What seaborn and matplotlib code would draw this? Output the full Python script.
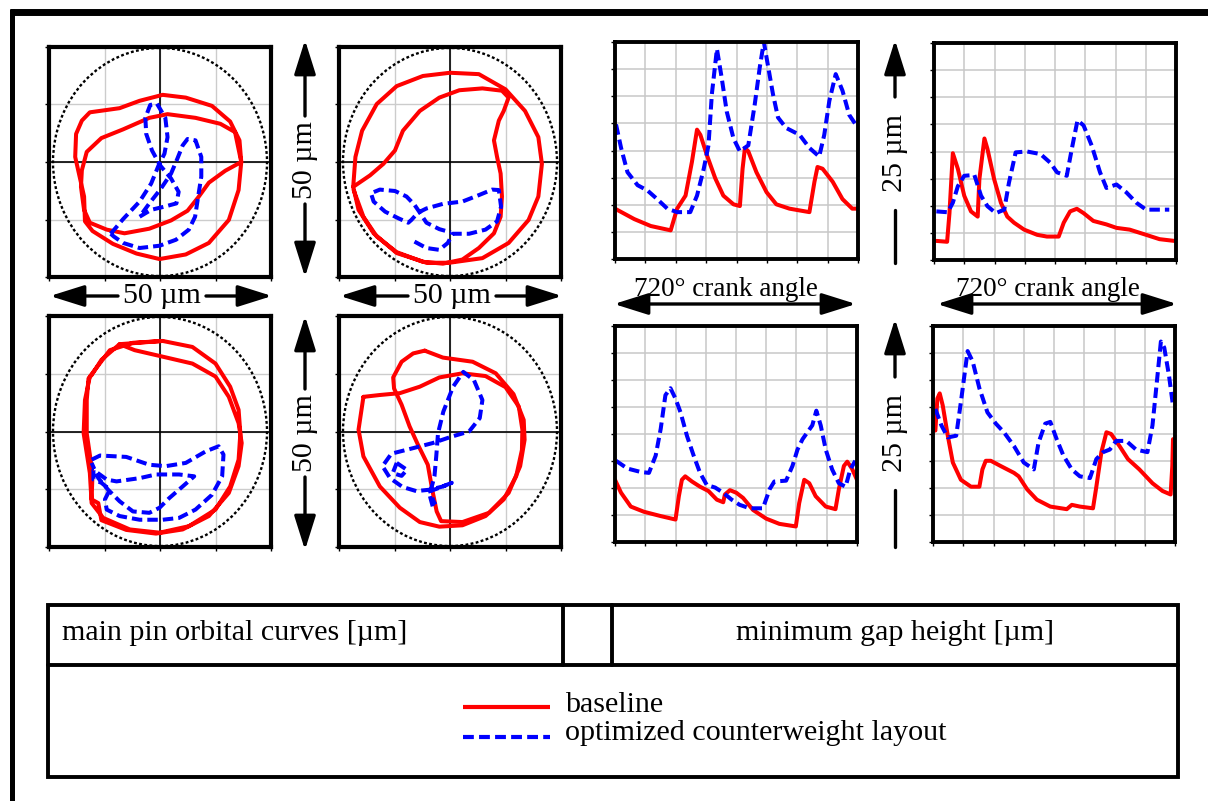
import numpy as np
import seaborn as sns
import matplotlib.pyplot as plt
from matplotlib.patches import Ellipse, Rectangle

sns.set_theme(style="white")
plt.rcParams['font.family'] = ['Liberation Serif', 'DejaVu Serif']
plt.rcParams['text.color'] = 'black'

W, H = 1208, 801
RED = '#ff0000'
BLUE = '#0000ff'
DASH = (2.6, 1.25)

# ---- main pin orbital curves [um] ----
orb1_red_x = [18.3, 17.7, 15.5, 11.0, 5.8, -0.1, -5.3, -10.6, -15.2, -16.9, -17.1, -18.1, -19.1, -18.9, -17.6, -15.8,
              -9.1, -4.6, 0.6, 5.8, 11.7, 15.8, 17.9, 18.3, 14.7, 11.0, 8.6, 6.2, 2.5, -2.4, -8.0, -12.0, -15.8,
              -17.1, -17.8, -17.6, -16.5, -13.2, -8.3, -2.4, 1.7, 8.0, 13.6, 16.9, 18.3]
orb1_red_y = [0, -6.1, -12.6, -17.6, -20.1, -21.1, -19.9, -17.8, -15.0, -12.9, -7.5, -3.2, 1.1, 6.1, 9.0, 10.8,
              11.7, 13.3, 14.6, 14.0, 12.2, 8.8, 4.7, 0, -1.9, -4.5, -7.7, -10.6, -12.7, -14.5, -15.5, -14.7, -13.2,
              -10.4, -5.4, -1.8, 2.2, 5.2, 7.1, 9.6, 10.4, 9.6, 8.3, 6.5, 0]
orb1_blue_x = [-11.1, -8.3, -4.6, -2.0, -0.3, 1.0, 1.7, 1.2, -0.7, -2.2, -3.3, -3.1, -1.8, 0, 2.5, 4.2, 3.7, 1.0,
               -2.0, -4.6, -2.4, 0.2, 2.5, 3.9, 5.1, 6.2, 8.0, 9.3, 9.3, 8.6, 7.9, 6.5, 3.6, -0.1, -4.6, -8.3,
               -10.4, -11.1]
orb1_blue_y = [-15.6, -12.4, -8.6, -4.7, -0.7, 1.8, 5.4, 9.6, 12.7, 12.4, 9.6, 6.1, 2.5, -0.7, -3.6, -6.5, -9.0,
               -9.7, -10.4, -11.9, -9.0, -5.8, -2.5, 0.7, 3.6, 5.0, 4.7, 1.1, -3.2, -7.5, -11.9, -14.7, -16.9,
               -18.2, -18.7, -17.6, -16.2, -15.6]

orb2_red_x = [-21.8, -21.3, -19.8, -16.5, -12.0, -6.1, 0, 6.5, 12.5, 16.9, 19.9, 20.7, 19.9, 17.7, 13.2, 7.3, -0.1,
              -5.3, -12.0, -17.2, -20.6, -21.8, -18.0, -15.0, -12.4, -10.6, -6.8, -2.4, 2.1, 7.3, 11.7, 13.2, 12.1,
              11.0, 9.9, 10.6, 11.4, 11.7, 11.4, 9.9, 6.5, 2.8, -1.6, -6.1, -12.0, -16.5, -19.5, -21.7]
orb2_red_y = [-5.4, 1.1, 6.8, 12.6, 16.5, 18.7, 19.4, 19.1, 15.8, 11.1, 5.4, -0.4, -7.5, -12.6, -17.6, -20.9, -21.9,
              -21.9, -19.8, -15.5, -10.4, -5.4, -2.9, -0.4, 2.5, 6.8, 11.1, 14.0, 15.6, 16.0, 15.5, 14.0, 11.1, 9.0,
              4.7, 1.1, -2.5, -7.5, -11.9, -15.5, -18.7, -21.2, -22.1, -21.7, -19.6, -16.2, -11.9, -6.1]
orb2_blue_x = [-8.0, -5.3, -2.4, -0.5, 0.6, 4.3, 8.0, 10.6, 11.5, 11.0, 9.5, 6.5, 2.8, -1.6, -5.3, -7.2, -8.7, -9.4,
               -11.7, -14.6, -17.2, -17.8, -15.8, -12.4, -9.8, -8.0, -6.8, -5.3, -2.4, 0.2]
orb2_blue_y = [-17.3, -18.7, -19.1, -17.6, -15.6, -15.6, -14.7, -12.9, -9.7, -6.1, -6.0, -7.2, -8.6, -9.1, -10.1,
               -11.0, -12.6, -13.2, -12.2, -10.8, -8.6, -6.8, -6.0, -6.3, -7.5, -9.3, -11.0, -13.2, -14.6, -15.3]

orb3_red_x = [0.6, 7.3, 12.5, 15.8, 17.7, 18.1, 17.7, 15.8, 12.5, 6.5, -0.1, -6.8, -12.8, -15.4, -15.8, -17.2, -16.9,
              -15.8, -11.3, -6.1, 0.6, -9.1, -5.7, 0.6, 7.3, 12.5, 15.5, 17.7, 18.4, 17.7, 15.5, 11.0, 5.1, -0.9,
              -7.6, -13.2, -13.9, -15.4, -15.2, -16.5, -16.5, -16.1, -15.4, -13.2, -9.1]
orb3_red_y = [19.6, 18.3, 14.7, 9.7, 4.7, -0.4, -6.1, -11.9, -16.9, -20.5, -21.9, -21.2, -18.7, -15.5, -9.0, -0.4,
              6.8, 11.9, 17.6, 19.2, 19.6, 18.9, 17.6, 16.2, 14.7, 11.9, 7.5, 1.8, -2.5, -7.5, -13.3, -18.3, -21.2,
              -22.1, -21.3, -19.2, -15.5, -14.7, -9.0, -0.4, 6.8, 11.5, 12.2, 15.5, 18.9]
orb3_blue_x = [-15.4, -13.5, -7.6, -2.4, 1.3, 5.8, 10.3, 13.2, 14.3, 14.0, 11.7, 8.0, 4.3, 0.6, -4.6, -9.1, -12.0,
               -12.4, -11.3, -13.2, -15.0, -15.0, -12.0, -9.8, -4.6, -0.9, 4.3, 7.7, 5.1, 2.1, -0.1, -2.4, -6.1,
               -9.1, -11.7, -13.9, -15.4]
orb3_blue_y = [-6.1, -5.2, -5.5, -7.2, -7.5, -6.8, -4.3, -3.2, -5.0, -9.7, -13.7, -16.9, -18.7, -19.1, -19.1, -18.3,
               -16.9, -14.7, -12.6, -11.1, -10.4, -8.3, -10.4, -10.8, -10.1, -9.3, -9.3, -9.7, -11.9, -14.4, -16.5,
               -17.6, -17.3, -15.1, -12.6, -10.1, -6.8]

orb4_red_x = [-19.5, -20.6, -19.5, -15.8, -11.3, -6.8, -2.4, 2.8, 8.0, 12.1, 14.9, 16.2, 16.3, 15.5, 12.5, 8.0, 2.8,
              -2.4, -6.8, -11.3, -15.8, -19.5]
orb4_red_y = [7.5, 0.4, -5.4, -11.9, -16.5, -19.6, -20.6, -20.3, -18.3, -14.7, -9.7, -4.0, 0.4, 5.4, 9.6, 12.0, 12.6,
              11.7, 9.7, 8.3, 7.9, 7.5]
orb4_red2_x = [-5.7, -1.6, 5.1, 10.3, 14.3, 16.6, 16.8, 15.8, 13.2, 8.8, 2.8, -2.0, -3.0, -4.0, -5.0, -7.2, -9.1,
               -10.9, -12.6, -12.8, -10.9, -8.3, -5.7]
orb4_red2_y = [17.5, 16.0, 15.1, 12.6, 8.1, 2.5, -1.8, -7.5, -13.3, -17.6, -19.6, -19.4, -17.3, -12.6, -7.2, -2.9,
               1.1, 5.8, 9.3, 11.7, 15.1, 16.9, 17.5]
orb4_blue_x = [-3.9, -4.6, -3.5, -3.1, -2.7, -1.5, 0.7, 3.0, 5.4, 7.3, 6.7, 4.3, 0.4, -3.9, -8.3, -13.2, -15.2, -13.5,
               -10.7, -7.6, -4.6, -1.6, 0.4, -2.4, -4.5, -3.7, -3.3]
orb4_blue_y = [-16.2, -13.7, -9.7, -5.4, -0.4, 4.3, 9.7, 12.9, 11.1, 6.8, 2.9, 0, -1.1, -2.5, -3.6, -4.8, -7.5,
               -10.1, -12.0, -12.9, -12.6, -11.9, -11.1, -12.2, -12.9, -15.1, -15.8]
orb4_blue2_x = [-12.0, -9.7, -10.9, -12.9, -12.0]
orb4_blue2_y = [-6.8, -8.3, -9.6, -9.0, -6.8]

# ---- minimum gap height [um] over 720 deg crank angle ----
g1_red_a = [0, 57, 106, 165, 184, 209, 228, 243, 253, 272, 297, 321, 351, 370, 378, 385, 395, 419, 449, 478, 517,
            576, 591, 600, 615, 645, 674, 703, 718]
g1_red_h = [5.8, 4.6, 3.8, 3.3, 5.8, 7.3, 11.2, 14.9, 14.3, 12.0, 9.3, 7.3, 6.3, 6.1, 10.4, 12.8, 12.4, 10.0, 7.7,
            6.3, 5.8, 5.4, 8.9, 10.6, 10.4, 8.9, 6.9, 5.8, 5.8]
g1_blue_a = [3, 18, 37, 67, 96, 125, 155, 184, 223, 243, 263, 277, 287, 302, 316, 331, 351, 370, 395, 414, 429, 441,
             454, 468, 483, 507, 547, 576, 605, 620, 635, 654, 674, 694, 713]
g1_blue_h = [15.5, 12.8, 10.0, 8.5, 7.9, 6.9, 5.8, 5.4, 5.4, 7.3, 10.4, 13.1, 19.0, 24.2, 20.9, 17.0, 13.9, 12.4,
             13.1, 17.8, 22.1, 25.0, 22.1, 19.0, 16.3, 15.1, 14.3, 12.8, 11.8, 14.3, 18.2, 21.3, 19.4, 16.6, 15.5]

g2_red_a = [7, 39, 46, 56, 71, 90, 110, 130, 135, 150, 159, 179, 199, 218, 238, 268, 307, 336, 371, 386, 405, 425,
            445, 474, 513, 543, 582, 631, 671, 715]
g2_red_h = [2.2, 2.1, 5.4, 12.3, 10.5, 7.4, 5.6, 5.0, 9.3, 14.0, 12.8, 9.3, 6.6, 5.0, 4.3, 3.5, 2.9, 2.7, 2.7, 4.3,
            5.6, 5.9, 5.4, 4.5, 4.1, 3.7, 3.5, 2.9, 2.4, 2.2]
g2_blue_a = [7, 41, 56, 71, 90, 120, 140, 159, 184, 209, 223, 243, 277, 317, 346, 366, 395, 410, 427, 445, 469, 494,
             513, 543, 572, 602, 631, 671, 700]
g2_blue_h = [5.6, 5.5, 6.6, 8.5, 9.7, 9.8, 7.4, 6.2, 5.4, 5.8, 8.9, 12.4, 12.5, 12.2, 11.2, 10.1, 9.7, 12.8, 16.1,
             15.5, 13.2, 10.1, 8.3, 8.7, 7.8, 6.6, 5.8, 5.8, 5.8]

g3_red_a = [0, 18, 47, 86, 136, 180, 190, 199, 209, 229, 253, 278, 303, 322, 327, 342, 361, 381, 411, 450, 489, 538,
            548, 563, 578, 597, 627, 656, 666, 681, 691, 705, 720]
g3_red_h = [7.2, 5.7, 4.1, 3.5, 3.0, 2.6, 5.3, 7.2, 7.6, 7.0, 6.4, 5.9, 4.9, 4.6, 5.5, 6.0, 5.7, 5.1, 3.7, 2.7, 2.1,
            1.8, 4.5, 7.2, 6.8, 5.3, 4.1, 3.8, 6.1, 8.8, 9.3, 8.5, 7.2]
g3_blue_a = [3, 37, 77, 101, 121, 136, 150, 165, 180, 195, 214, 234, 253, 273, 298, 322, 347, 371, 401, 440, 460,
             474, 509, 528, 543, 558, 587, 599, 612, 627, 646, 666, 686, 700, 715]
g3_blue_h = [9.4, 8.5, 8.1, 8.0, 10.0, 13.1, 17.0, 17.8, 16.6, 15.0, 12.3, 10.0, 8.0, 6.6, 6.3, 5.7, 4.9, 4.3, 3.9,
             3.9, 6.1, 7.0, 7.1, 8.8, 10.7, 11.9, 13.5, 15.2, 13.5, 10.7, 8.4, 6.8, 6.4, 8.4, 9.4]

g4_red_a = [7, 13, 20, 29, 44, 59, 83, 113, 138, 147, 157, 172, 201, 241, 255, 280, 309, 349, 398, 413, 437, 476,
            486, 501, 516, 530, 555, 580, 614, 653, 683, 707, 712, 714]
g4_red_h = [12.9, 16.6, 17.2, 15.8, 12.3, 9.2, 7.2, 6.4, 6.4, 8.4, 9.4, 9.4, 8.8, 8.0, 7.6, 6.1, 4.9, 4.1, 3.8, 4.3,
            4.1, 3.9, 6.4, 10.4, 12.7, 12.5, 11.1, 9.6, 8.4, 6.8, 5.9, 5.5, 8.8, 11.9]
g4_blue_a = [7, 25, 44, 69, 83, 103, 118, 138, 162, 187, 211, 241, 270, 300, 314, 334, 349, 368, 388, 413, 437, 467,
             486, 506, 526, 545, 575, 604, 638, 653, 668, 678, 688, 702, 714]
g4_blue_h = [15.4, 13.5, 12.1, 12.3, 16.2, 22.1, 20.9, 17.8, 15.0, 13.7, 12.7, 11.1, 9.2, 8.4, 11.5, 13.7, 13.9,
             11.9, 10.0, 8.4, 7.6, 7.4, 9.6, 10.4, 10.7, 11.7, 11.7, 10.7, 10.4, 13.5, 19.3, 23.2, 22.5, 19.3, 15.8]

fig = plt.figure(figsize=(W / 100, H / 100), dpi=100)


def box(x0, y0, x1, y1):
    return [x0 / W, 1 - y1 / H, (x1 - x0) / W, (y1 - y0) / H]


def frame(ax, lw):
    for sp in ax.spines.values():
        sp.set_visible(True)
        sp.set_linewidth(lw)
        sp.set_edgecolor('black')
    ax.tick_params(length=3, width=1, direction='out', bottom=True, left=True,
                   labelbottom=False, labelleft=False, colors='black')
    ax.set_xlabel('')
    ax.set_ylabel('')


def curve(ax, x, y, color, dashed=False):
    sns.lineplot(x=x, y=y, sort=False, estimator=None, color=color, lw=2.9, ax=ax)
    ln = ax.lines[-1]
    ln.set_solid_joinstyle('round')
    if dashed:
        ln.set_dashes(DASH)


def orbit_axes(rect, curves):
    ax = fig.add_axes(box(*rect))
    ax.set_xlim(-25, 25)
    ax.set_ylim(-25, 25)
    ticks = [-25, -12.5, 0, 12.5, 25]
    ax.set_xticks(ticks)
    ax.set_yticks(ticks)
    ax.grid(True, color='#cccccc', lw=1.0)
    ax.axhline(0, color='black', lw=1.2)
    ax.axvline(0, color='black', lw=1.2)
    ax.add_patch(Ellipse((0, 0), 48.2, 49.6, fill=False, ec='black', lw=1.7,
                         ls=(0, (1.2, 1.0)), clip_on=False, zorder=2))
    for x, y, c, d in curves:
        curve(ax, x, y, c, d)
    frame(ax, 3.0)
    return ax


def gap_axes(rect, curves):
    ax = fig.add_axes(box(*rect))
    ax.set_xlim(0, 720)
    ax.set_ylim(0, 25)
    ax.set_xticks(np.arange(0, 721, 90))
    ax.set_yticks(np.linspace(0, 25, 9))
    ax.grid(True, color='#c8c8c8', lw=1.1)
    for x, y, c, d in curves:
        curve(ax, x, y, c, d)
    frame(ax, 2.8)
    return ax


orbit_axes((49, 47, 271, 277), [(orb1_red_x, orb1_red_y, RED, False),
                                (orb1_blue_x, orb1_blue_y, BLUE, True)])
orbit_axes((339, 47, 561, 277), [(orb2_red_x, orb2_red_y, RED, False),
                                 (orb2_blue_x, orb2_blue_y, BLUE, True)])
orbit_axes((49, 316, 271, 547), [(orb3_red_x, orb3_red_y, RED, False),
                                 (orb3_blue_x, orb3_blue_y, BLUE, True)])
orbit_axes((339, 316, 561, 547), [(orb4_red_x, orb4_red_y, RED, False),
                                  (orb4_red2_x, orb4_red2_y, RED, False),
                                  (orb4_blue_x, orb4_blue_y, BLUE, True),
                                  (orb4_blue2_x, orb4_blue2_y, BLUE, True)])

gap_axes((615, 42, 858, 259), [(g1_red_a, g1_red_h, RED, False), (g1_blue_a, g1_blue_h, BLUE, True)])
gap_axes((934, 43, 1176, 260), [(g2_red_a, g2_red_h, RED, False), (g2_blue_a, g2_blue_h, BLUE, True)])
gap_axes((615, 326, 857, 542), [(g3_red_a, g3_red_h, RED, False), (g3_blue_a, g3_blue_h, BLUE, True)])
gap_axes((933, 326, 1175, 542), [(g4_red_a, g4_red_h, RED, False), (g4_blue_a, g4_blue_h, BLUE, True)])

# ---- overlay in pixel units for frame, arrows and legend table ----
ov = fig.add_axes([0, 0, 1, 1], zorder=10)
ov.set_xlim(0, W)
ov.set_ylim(H, 0)
ov.axis('off')

ov.plot([10, W], [11.5, 11.5], color='black', lw=5, solid_capstyle='butt')
ov.plot([11.5, 11.5], [9, H], color='black', lw=3.6, solid_capstyle='butt')

ARW = dict(color='black', lw=2.4, mutation_scale=20, shrinkA=0, shrinkB=0)
ONE = '-|>,head_length=1.05,head_width=0.33'
TWO = '<|-|>,head_length=1.05,head_width=0.33'


def arrow(tail, tip, style=ONE):
    ov.annotate('', xy=tip, xytext=tail, arrowprops=dict(arrowstyle=style, **ARW))


FS = 21.6
# vertical 50 um
for top, bot, mid in [(40, 277, 160), (316, 550, 433)]:
    arrow((305, mid - 44), (305, top))
    arrow((305, mid + 44), (305, bot))
    ov.text(305, mid, '50 µm', rotation=90, ha='center', va='center', fontsize=FS)
# horizontal 50 um
for left, right, mid in [(50, 272, 162), (340, 562, 452)]:
    arrow((mid - 44, 296), (left, 296))
    arrow((mid + 44, 296), (right, 296))
    ov.text(mid, 296, '50 µm', ha='center', va='center', fontsize=FS)
# vertical 25 um
for top, bot, mid in [(40, 263, 153), (319, 547, 433)]:
    arrow((895, mid - 56), (895, top))
    ov.plot([895, 895], [mid + 57, bot], color='black', lw=2.4)
    ov.text(895, mid, '25 µm', rotation=90, ha='center', va='center', fontsize=FS)
# crank angle
for left, right, mid in [(614, 856, 726), (937, 1177, 1048)]:
    arrow((left, 304), (right, 304), TWO)
    ov.text(mid, 289, '720° crank angle', ha='center', va='center', fontsize=19.5)

# legend table
ov.add_patch(Rectangle((48, 605), 1130, 172, fill=False, ec='black', lw=2.8))
ov.plot([48, 1178], [665, 665], color='black', lw=2.8)
ov.plot([563, 563], [605, 665], color='black', lw=2.8)
ov.plot([612, 612], [605, 665], color='black', lw=2.8)
ov.text(62, 633, 'main pin orbital curves [µm]', ha='left', va='center', fontsize=FS)
ov.text(895, 633, 'minimum gap height [µm]', ha='center', va='center', fontsize=FS)
ov.plot([463, 550], [707, 707], color=RED, lw=3, solid_capstyle='butt')
leg = ov.plot([463, 550], [737, 737], color=BLUE, lw=3)[0]
leg.set_dashes(DASH)
ov.text(565, 705, 'baseline', ha='left', va='center', fontsize=FS)
ov.text(565, 733, 'optimized counterweight layout', ha='left', va='center', fontsize=FS)

fig.savefig('out.png', dpi=100)
